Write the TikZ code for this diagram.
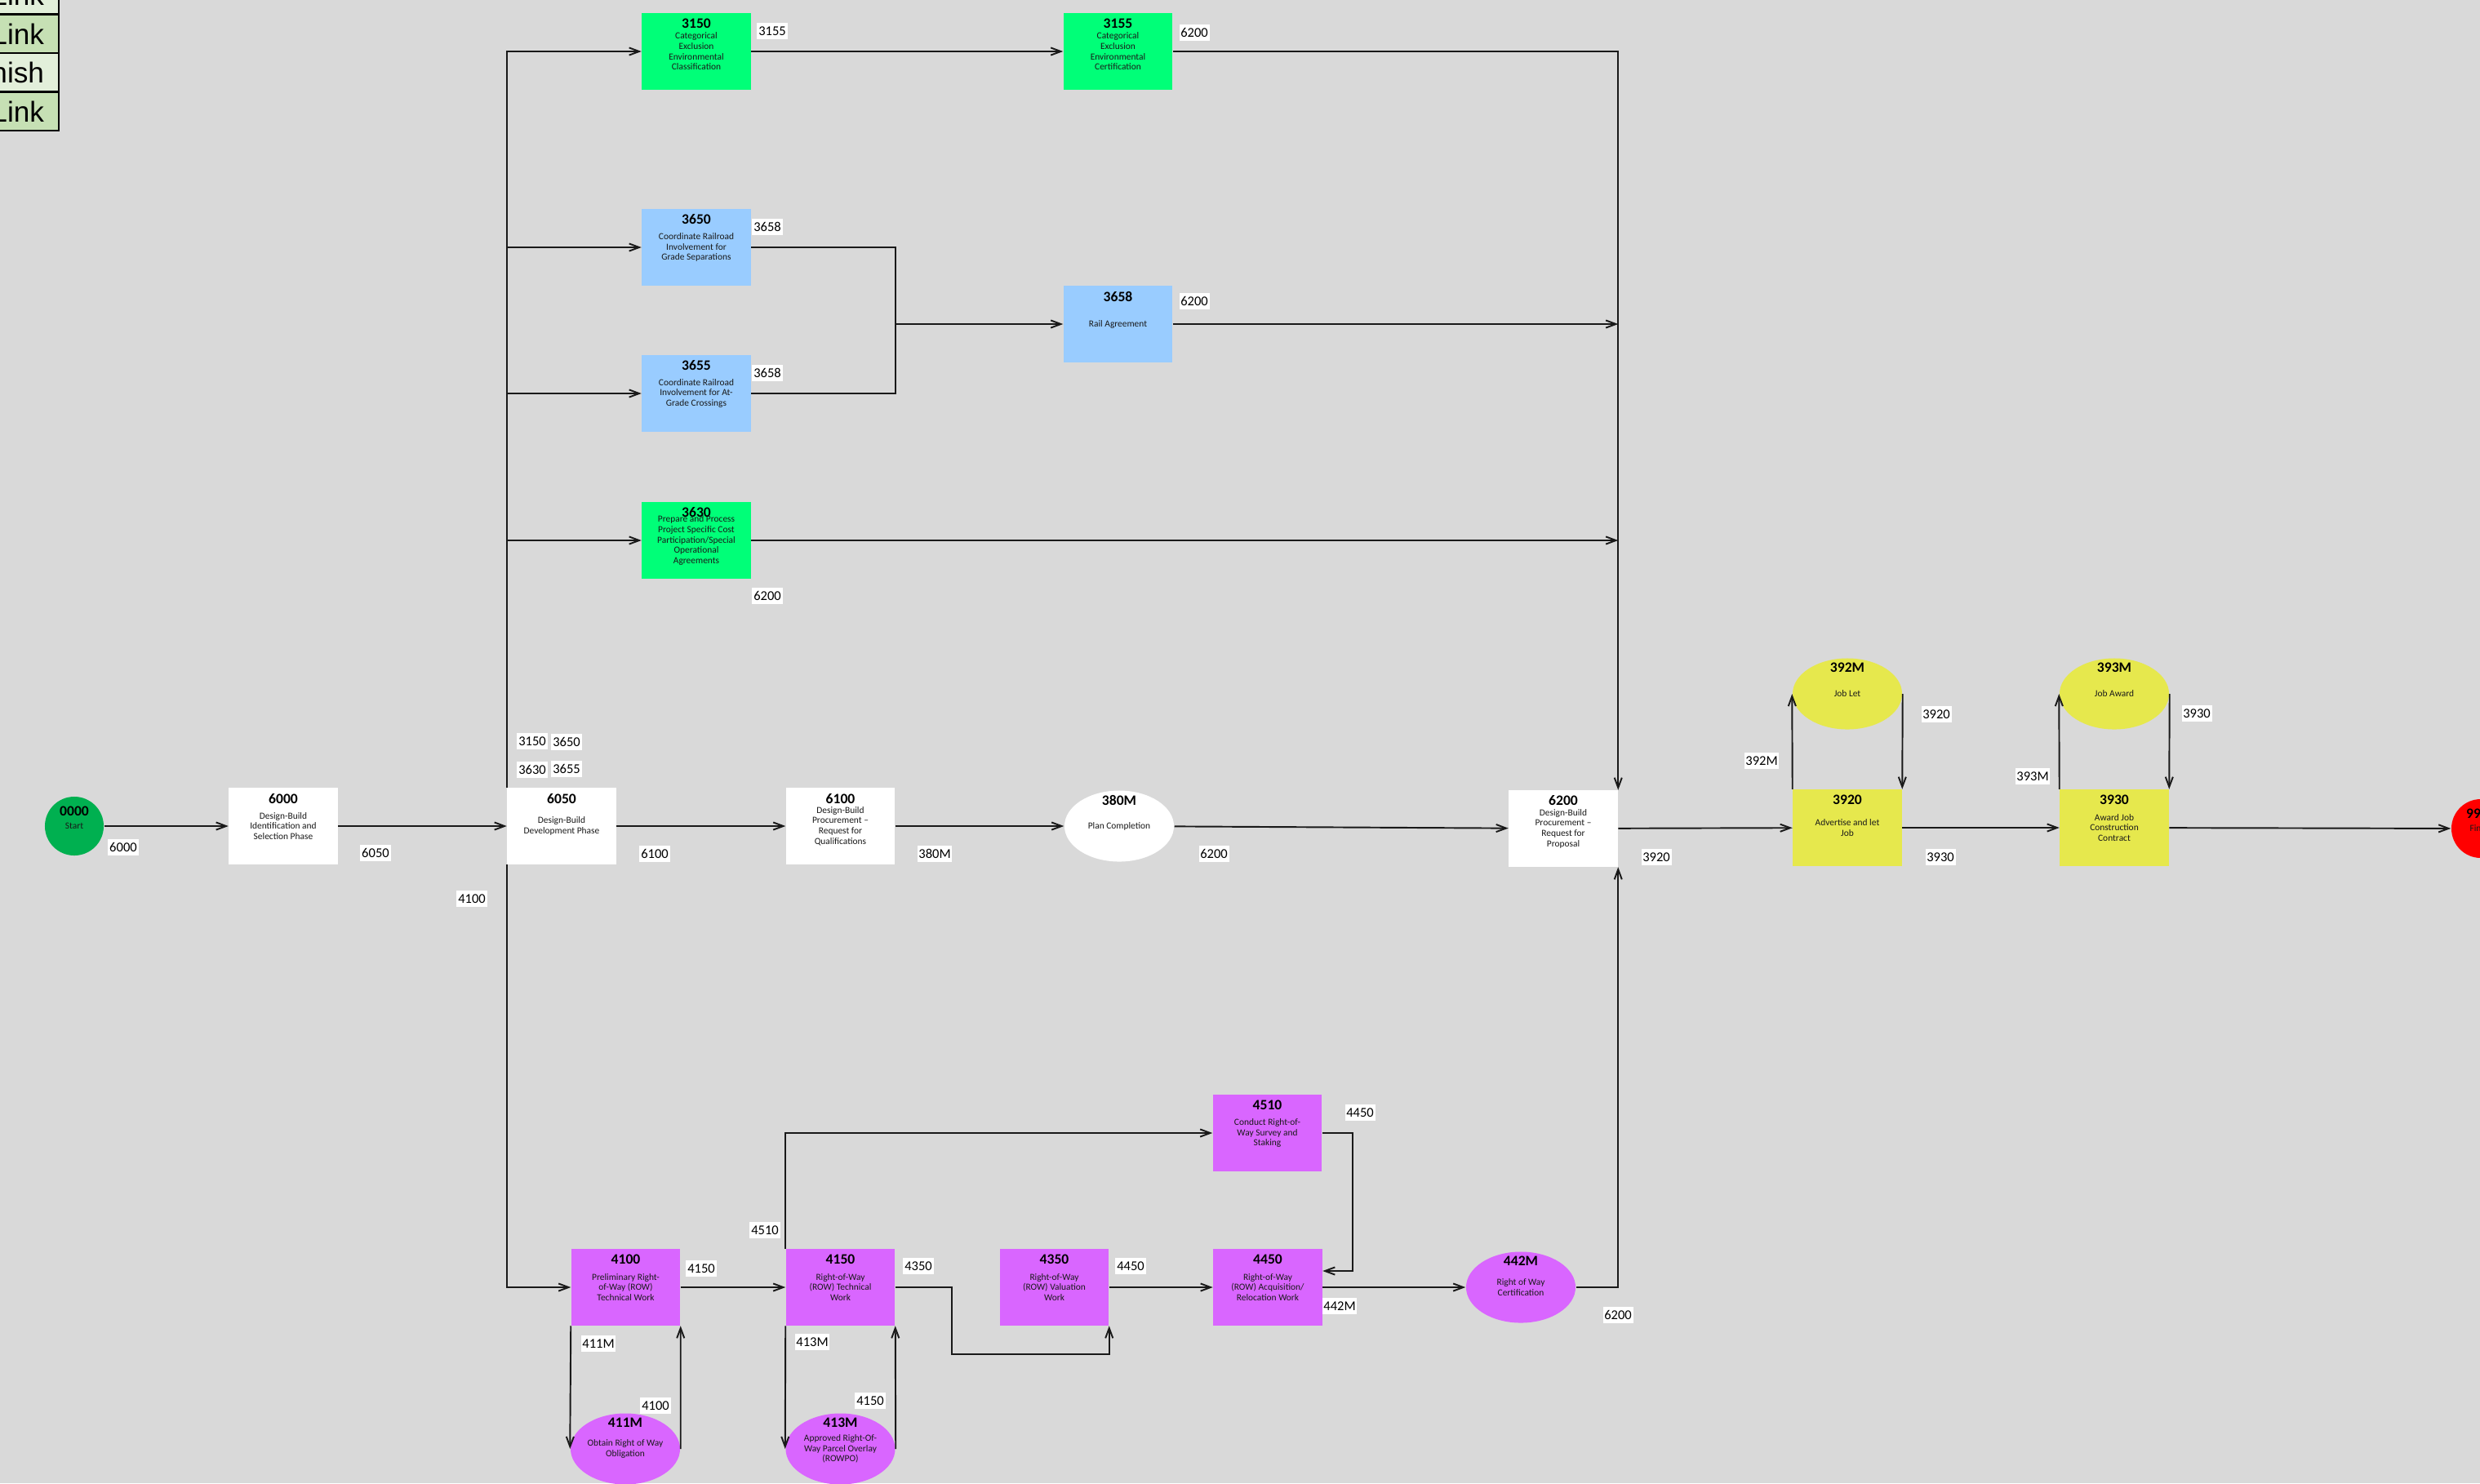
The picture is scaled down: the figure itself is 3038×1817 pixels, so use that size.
\documentclass[tikz,border=0pt]{standalone}
\usepackage{fontspec}
\setmainfont{Carlito}
\newfontfamily\legfont{Liberation Sans}
\usetikzlibrary{arrows.meta,positioning,calc,shapes.geometric}
\definecolor{bggray}{HTML}{D9D9D9}
\definecolor{envgreen}{HTML}{00FF78}
\definecolor{railblue}{HTML}{99CCFF}
\definecolor{rowpurple}{HTML}{D966FF}
\definecolor{letyellow}{HTML}{E6E84D}
\definecolor{startgreen}{HTML}{00B050}
\definecolor{endred}{HTML}{FF0000}
\definecolor{legdark}{HTML}{C6E0B4}
\definecolor{leglight}{HTML}{E2EFDA}

\begin{document}
\begin{tikzpicture}[
  x=0.01cm, y=-0.01cm,
  font=\fontsize{3.25}{3.6}\selectfont,
  ttl/.style={font=\bfseries\fontsize{5}{6}\selectfont, anchor=north, inner sep=0pt, yshift=-0.065cm},
  task/.style={align=center, text=black!90, inner sep=0pt, minimum width=1.33cm, minimum height=0.93cm},
  mile/.style={ellipse, align=center, text=black!90, inner sep=0pt, minimum width=1.34cm, minimum height=0.87cm},
  term/.style={circle, align=center, text=black!90, inner sep=0pt, minimum size=0.72cm},
  lab/.style={fill=white, inner xsep=0.5pt, inner ysep=1.3pt, font=\fontsize{4.7}{5}\selectfont},
  legcell/.style={draw=black, line width=0.7pt, minimum height=0.475cm, text width=1.5cm, align=right,
    inner xsep=0.18cm, inner ysep=0pt, outer sep=0pt, font=\legfont\fontsize{10}{11}\selectfont},
  arr/.style={-{Straight Barb[length=3.5pt,width=2.6pt]}, line width=0.55pt, draw=black!90},
  ln/.style={line width=0.55pt, draw=black!90}
]
\fill[bggray] (0,0) rectangle (3038,1817);
\useasboundingbox (0,0) rectangle (3038,1817);

% legend (cut at the page edge)
\node[legcell, fill=leglight, anchor=north east] (leg1) at (72,-30) {Link};
\node[legcell, fill=legdark, below=0pt of leg1] (leg2) {Link};
\node[legcell, fill=leglight, below=0pt of leg2] (leg3) {nish};
\node[legcell, fill=legdark, below=0pt of leg3] (leg4) {Link};

% main row
\node[term, fill=startgreen, label={[ttl,yshift=-0.05cm]north:0000}] (n0000) at (91,1012) {Start};
\node[task, fill=white, label={[ttl]north:6000}] (n6000) at (347,1012) {Design-Build\\Identification and\\Selection Phase};
\node[task, fill=white, label={[ttl]north:6050}] (n6050) at (688,1012) {Design-Build\\Development Phase};
\node[task, fill=white, label={[ttl]north:6100}] (n6100) at (1029.5,1012) {Design-Build\\Procurement --\\Request for\\Qualifications};
\node[mile, fill=white, label={[ttl,yshift=0.01cm]north:380M}] (n380M) at (1371,1012) {Plan Completion};
\node[task, fill=white, label={[ttl]north:6200}] (n6200) at (1915,1015) {Design-Build\\Procurement --\\Request for\\Proposal};
\node[task, fill=letyellow, label={[ttl]north:3920}] (n3920) at (2263,1014) {Advertise and let\\Job};
\node[mile, fill=letyellow, label={[ttl,yshift=0.01cm]north:392M}] (n392M) at (2263,850) {Job Let};
\node[task, fill=letyellow, label={[ttl]north:3930}] (n3930) at (2590,1014) {Award Job\\Construction\\Contract};
\node[mile, fill=letyellow, label={[ttl,yshift=0.01cm]north:393M}] (n393M) at (2590,850) {Job Award};
\node[term, fill=endred, label={[ttl,yshift=-0.05cm]north:9999}] (n9999) at (3039,1015) {Finish};

% upper branches
\node[task, fill=envgreen, label={[ttl]north:3150}] (n3150) at (853,63) {Categorical\\Exclusion\\Environmental\\Classification};
\node[task, fill=envgreen, label={[ttl]north:3155}] (n3155) at (1369.5,63) {Categorical\\Exclusion\\Environmental\\Certification};
\node[task, fill=railblue, label={[ttl]north:3650}] (n3650) at (853,303) {Coordinate Railroad\\Involvement for\\Grade Separations};
\node[task, fill=railblue, label={[ttl]north:3655}] (n3655) at (853,482) {Coordinate Railroad\\Involvement for At-\\Grade Crossings};
\node[task, fill=railblue, label={[ttl]north:3658}] (n3658) at (1369.5,397) {Rail Agreement};
\node[task, fill=envgreen, label={[ttl]north:3630}] (n3630) at (853,662) {Prepare and Process\\Project Specific Cost\\Participation/Special\\Operational\\Agreements};

% right-of-way branch
\node[task, fill=rowpurple, label={[ttl]north:4100}] (n4100) at (766.5,1577) {Preliminary Right-\\of-Way (ROW)\\Technical Work};
\node[task, fill=rowpurple, label={[ttl]north:4150}] (n4150) at (1029.5,1577) {Right-of-Way\\(ROW) Technical\\Work};
\node[task, fill=rowpurple, label={[ttl]north:4350}] (n4350) at (1291.5,1577) {Right-of-Way\\(ROW) Valuation\\Work};
\node[task, fill=rowpurple, label={[ttl]north:4510}] (n4510) at (1552.5,1388) {Conduct Right-of-\\Way Survey and\\Staking};
\node[task, fill=rowpurple, label={[ttl]north:4450}] (n4450) at (1553,1577) {Right-of-Way\\(ROW) Acquisition/\\Relocation Work};
\node[mile, fill=rowpurple, label={[ttl,yshift=0.01cm]north:442M}] (n442M) at (1863,1577) {Right of Way\\Certification};
\node[mile, fill=rowpurple, label={[ttl,yshift=0.01cm]north:411M}] (n411M) at (766,1775) {Obtain Right of Way\\Obligation};
\node[mile, fill=rowpurple, label={[ttl,yshift=0.01cm]north:413M}] (n413M) at (1029.5,1775) {Approved Right-Of-\\Way Parcel Overlay\\(ROWPO)};

% connectors
\draw[arr] (n0000) -- (n6000);
\draw[arr] (n6000) -- (n6050);
\draw[arr] (n6050) -- (n6100);
\draw[arr] (n6100) -- (n380M);
\draw[arr] (n380M) -- (n6200);
\draw[arr] (n6200) -- (n3920);
\draw[arr] (n3920) -- (n3930);
\draw[arr] (n3930) -- (n9999);
\draw[arr] (n3920.north west) -- (n392M.west);
\draw[arr] (n392M.east) -- (n3920.north east);
\draw[arr] (n3930.north west) -- (n393M.west);
\draw[arr] (n393M.east) -- (n3930.north east);

\draw[arr] (n6050.north west) |- (n3150);
\draw[arr] (n6050.north west) |- (n3650);
\draw[arr] (n6050.north west) |- (n3655);
\draw[arr] (n6050.north west) |- (n3630);
\draw[arr] (n6050.south west) |- (n4100);
\draw[arr] (n3150) -- (n3155);
\draw[arr] (n3155) -| (n6200.north east);
\coordinate (rjoin) at (1097,397);
\draw[ln] (n3650) -| (rjoin);
\draw[ln] (n3655) -| (rjoin);
\draw[arr] (rjoin) -- (n3658);
\draw[arr] (n3658) -- (n3658 -| n6200.north east);
\draw[arr] (n3630) -- (n3630 -| n6200.north east);

\draw[arr] (n4100) -- (n4150);
\draw[arr] (n4150.north west) |- (n4510);
\draw[arr] (n4150.east) -- ++(69,0) -- ++(0,82) -| (n4350.south east);
\draw[arr] (n4350) -- (n4450);
\draw[arr] (n4510.east) -- ++(37,0) |- ($(n4450.east)+(0,-20)$);
\draw[arr] (n4450) -- (n442M);
\draw[arr] (n442M) -| (n6200.south east);
\draw[arr] (n4100.south west) -- (n411M.west);
\draw[arr] (n411M.east) -- (n4100.south east);
\draw[arr] (n4150.south west) -- (n413M.west);
\draw[arr] (n413M.east) -- (n4150.south east);

% successor labels
\node[lab] (l6000) at (151,1038) {6000};
\node[lab] (l6050) at (460,1045) {6050};
\node[lab] (l6100) at (802,1046) {6100};
\node[lab] (l380M) at (1145,1046) {380M};
\node[lab] (l6200a) at (1487,1046) {6200};
\node[lab] (l3920a) at (2029,1050) {3920};
\node[lab] (l3930a) at (2377,1050) {3930};
\node[lab] (l392M) at (2158,932) {392M};
\node[lab] (l3920b) at (2372,875) {3920};
\node[lab] (l393M) at (2490,951) {393M};
\node[lab] (l3930b) at (2691,874) {3930};
\node[lab] (l4100a) at (578,1101) {4100};
\node[lab] (l3150) at (652,908) {3150};
\node[lab] (l3650) at (694,909) {3650};
\node[lab] (l3630) at (652,943) {3630};
\node[lab] (l3655) at (694,942) {3655};
\node[lab] (l3155) at (946,38) {3155};
\node[lab] (l6200b) at (1463,40) {6200};
\node[lab] (l3658a) at (940,278) {3658};
\node[lab] (l3658b) at (940,457) {3658};
\node[lab] (l6200c) at (1463,369) {6200};
\node[lab] (l6200d) at (940,730) {6200};
\node[lab] (l4150a) at (859,1554) {4150};
\node[lab] (l4350) at (1125,1551) {4350};
\node[lab] (l4450a) at (1385,1551) {4450};
\node[lab] (l4510) at (937,1507) {4510};
\node[lab] (l411M) at (733,1646) {411M};
\node[lab] (l4100b) at (803,1722) {4100};
\node[lab] (l413M) at (995,1644) {413M};
\node[lab] (l4150b) at (1066,1716) {4150};
\node[lab] (l4450b) at (1666,1363) {4450};
\node[lab] (l442M) at (1641,1600) {442M};
\node[lab] (l6200e) at (1982,1611) {6200};
\end{tikzpicture}
\end{document}
